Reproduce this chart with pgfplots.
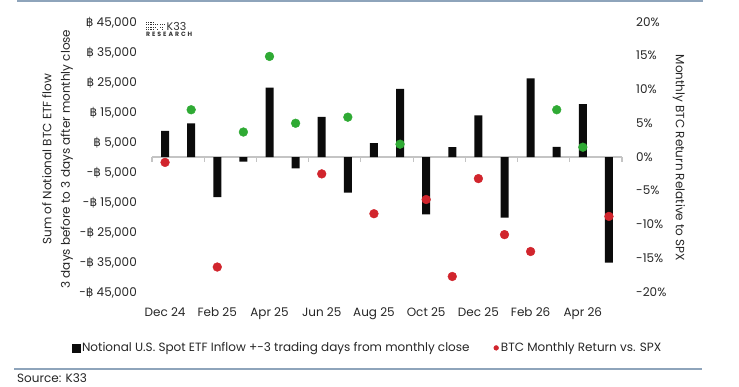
\documentclass[border=0pt]{standalone}
\usepackage{fontspec}
\setmainfont{Poppins}
\newfontfamily\btcsym{DejaVu Sans}
\usepackage{pgfplots}
\usepackage{pgfplotstable}
\pgfplotsset{compat=1.18}

\definecolor{btcred}{HTML}{D1252D}
\definecolor{btcgreen}{HTML}{2FAA34}
\definecolor{barcol}{HTML}{0B0B0B}
\definecolor{rulecol}{HTML}{8EA4BB}
\definecolor{zerocol}{HTML}{C4C4C4}
\definecolor{labcol}{HTML}{262626}

\newcommand{\B}{{\btcsym\char"0E3F}}

% month index, ETF flow (BTC) around month close, BTC return vs SPX (%), sign class
\pgfplotstableread{
idx flow ret cls
0 8700 -0.8 r
1 11200 7.0 g
2 -13400 -16.3 r
3 -1500 3.7 g
4 23100 14.9 g
5 -3800 5.0 g
6 13400 -2.5 r
7 -11900 5.9 g
8 4600 -8.4 r
9 22700 1.9 g
10 -19100 -6.3 r
11 3300 -17.7 r
12 13900 -3.2 r
13 -20200 -11.5 r
14 26200 -14.0 r
15 3400 7.0 g
16 17600 1.45 g
17 -35200 -8.8 r
}\monthly

\pgfplotsset{
  base/.style={
    scale only axis, width=470bp, height=270bp,
    at={(152bp,95bp)}, anchor=south west,
    xmin=-0.5, xmax=17.5, clip=false,
    tick label style={text=labcol},
  },
}

\begin{document}
\begin{tikzpicture}[font=\fontsize{12bp}{14bp}\selectfont]
\useasboundingbox (0,0) rectangle (739bp,387bp);

% frame rules and source line
\draw[rulecol, line width=2bp] (17bp,386bp) -- (703bp,386bp);
\draw[rulecol, line width=2bp] (14bp,18bp) -- (702bp,18bp);
\node[anchor=base west, inner sep=0pt, text=labcol] at (17bp,5bp) {Source: K33};

% axis titles
\node[rotate=90, align=center, text=labcol, font=\fontsize{12bp}{18.5bp}\selectfont]
  at (57.5bp,228bp) {Sum of Notional BTC ETF flow\\3 days before to 3 days after monthly close};
\node[rotate=-90, text=labcol] at (679bp,229bp) {Monthly BTC Return Relative to SPX};

% logo
\begin{scope}[black!80]
  \foreach \cx in {146,148.2,150.4,152.6}
    \foreach \cy in {357,359.3,361.6,363.9}
      \fill (\cx bp,\cy bp) rectangle ++(1.1bp,1.1bp);
  \foreach \cx/\cy in {155/359.3,155/361.6,157.3/357,157.3/361.6,159.6/359.3,159.6/361.6,161.9/357,161.9/359.3,161.9/361.6,164.2/361.6}
      \fill (\cx bp,\cy bp) rectangle ++(1.1bp,1.1bp);
  \node[anchor=base west, inner sep=0pt, font=\fontsize{11bp}{12bp}\selectfont] at (166.5bp,356.5bp) {K33};
  \node[anchor=base west, inner sep=0pt, font=\fontsize{6.2bp}{7bp}\selectfont\bfseries] at (146bp,350bp)
    {\makebox[46bp][s]{R\hfill E\hfill S\hfill E\hfill A\hfill R\hfill C\hfill H}};
\end{scope}

% flows (left axis)
\begin{axis}[base,
  ymin=-45000, ymax=45000,
  axis x line=none, axis y line*=left,
  y axis line style={draw=none}, ytick style={draw=none},
  scaled y ticks=false,
  ytick={-45000,-35000,-25000,-15000,-5000,5000,15000,25000,35000,45000},
  yticklabels={{-\B\ 45,000},{-\B\ 35,000},{-\B\ 25,000},{-\B\ 15,000},{-\B\ 5,000},
               {\B\ 5,000},{\B\ 15,000},{\B\ 25,000},{\B\ 35,000},{\B\ 45,000}},
  yticklabel style={anchor=base east, inner sep=0pt, xshift=-15bp, yshift=-4.2bp},
]
% zero line with boundary ticks every two months
\draw[zerocol, line width=1.5bp] (axis cs:-0.5,0) -- (axis cs:17.5,0);
\pgfplotsinvokeforeach{-0.5,1.5,...,17.5}{
  \draw[zerocol, line width=1.2bp] (axis cs:#1,0) -- ++(0pt,-5bp);
}
\addplot[ybar, bar width=8bp, fill=barcol, draw=none] table[x=idx, y=flow] {\monthly};
\end{axis}

% relative returns (right axis)
\begin{axis}[base,
  ymin=-20, ymax=20,
  axis y line*=right, axis x line*=bottom,
  x axis line style={draw=none}, y axis line style={draw=none},
  tick style={draw=none},
  xtick={0,2,...,16},
  xticklabels={Dec 24,Feb 25,Apr 25,Jun 25,Aug 25,Oct 25,Dec 25,Feb 26,Apr 26},
  xticklabel style={anchor=base, inner sep=0pt, yshift=-24.7bp},
  ytick={-20,-15,...,20},
  yticklabels={{-20\%},{-15\%},{-10\%},{-5\%},{0\%},{5\%},{10\%},{15\%},{20\%}},
  yticklabel style={anchor=base west, inner sep=0pt, xshift=14bp, yshift=-4.2bp},
  legend columns=2,
  legend style={draw=none, fill=none, at={(rel axis cs:0.4585,-0.207)}, anchor=center,
    text=labcol, inner sep=0pt,
    /tikz/every even column/.append style={column sep=22bp}},
]
\addlegendimage{legend image code/.code={\fill[barcol] (0bp,-4bp) rectangle (8bp,4bp);}}
\addlegendentry{Notional U.S. Spot ETF Inflow +-3 trading days from monthly close}
\addplot[scatter, only marks, mark=*, mark size=4.4bp,
  scatter src=explicit symbolic,
  scatter/classes={g={btcgreen}, r={btcred}},
  legend image code/.code={\fill[btcred] (2.4bp,0bp) circle (2.4bp); \path (5bp,0bp);}]
  table[x=idx, y=ret, meta=cls] {\monthly};
\addlegendentry{BTC Monthly Return vs. SPX}
\end{axis}
\end{tikzpicture}
\end{document}
